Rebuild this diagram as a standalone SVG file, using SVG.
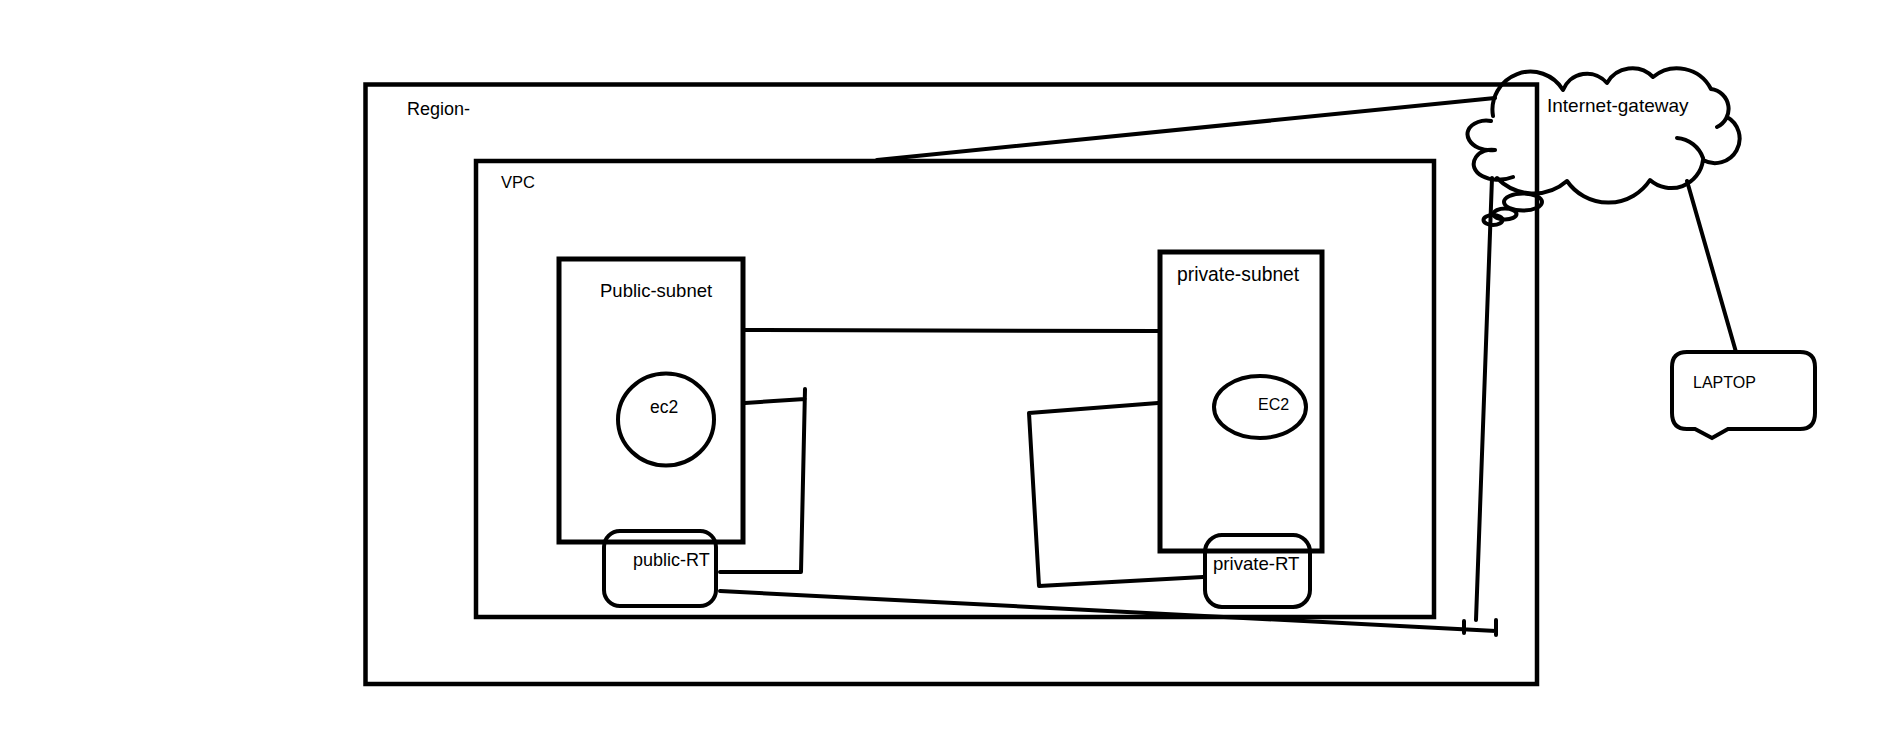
<svg xmlns="http://www.w3.org/2000/svg" width="1879" height="743" viewBox="0 0 1879 743">
<style>
.box{fill:none;stroke:#000;stroke-width:4.5}
.thin{fill:none;stroke:#000;stroke-width:4}
.ln{fill:none;stroke:#000;stroke-width:4;stroke-linecap:round;stroke-linejoin:round}
text{font-family:"Liberation Sans",Arial,sans-serif;fill:#000}
</style>
<rect width="1879" height="743" fill="#fff"/>
<g id="region">
<rect class="box" x="365.5" y="84.5" width="1171.5" height="599.5"/>
<text x="407" y="115" font-size="18">Region-</text>
</g>
<g id="vpc">
<rect class="box" x="476" y="161" width="958" height="456"/>
<text x="501" y="188" font-size="16.5">VPC</text>
</g>
<g id="public-subnet">
<rect class="box" x="559" y="259" width="184" height="283" style="stroke-width:5"/>
<text x="600" y="297" font-size="18.5">Public-subnet</text>
</g>
<g id="ec2-public">
<ellipse class="thin" cx="666" cy="419.5" rx="48" ry="46"/>
<text x="650" y="413" font-size="17.5">ec2</text>
</g>
<g id="public-rt">
<rect class="thin" x="604" y="531" width="112" height="75" rx="16"/>
<text x="633" y="566" font-size="18">public-RT</text>
</g>
<g id="private-subnet">
<rect class="box" x="1160" y="252" width="162" height="299" style="stroke-width:5"/>
<text x="1177" y="281" font-size="19.3">private-subnet</text>
</g>
<g id="ec2-private">
<ellipse class="thin" cx="1260" cy="407" rx="46" ry="31"/>
<text x="1258" y="410" font-size="16">EC2</text>
</g>
<g id="private-rt">
<rect class="thin" x="1205" y="535" width="105" height="72" rx="17"/>
<text x="1213" y="570" font-size="18.6">private-RT</text>
</g>
<g id="internet-gateway">
<path class="ln" d="M1493,116 A38,38 0 0 1 1563,90 A26,26 0 0 1 1607,83 A29,29 0 0 1 1653,77 A38,38 0 0 1 1711,89 A20,20 0 0 1 1717,127 M1727,117 A20,20 0 1 1 1703,160 A32,32 0 0 1 1650,180 A50,50 0 0 1 1567,181 A51,51 0 0 1 1497,178 M1513,177 C1490,186 1466,172 1476,157 C1480,151 1488,149 1495,150 M1495,150 C1470,153 1457,130 1478,122 C1483,120 1487,120 1491,121 M1677,138 A30,30 0 0 1 1703,158"/>
<ellipse class="thin" cx="1523" cy="202" rx="19" ry="8.5"/>
<ellipse class="thin" cx="1505" cy="214" rx="11.5" ry="5.5"/>
<ellipse class="thin" cx="1493" cy="220" rx="9.5" ry="5"/>
<text x="1547" y="112" font-size="19">Internet-gateway</text>
</g>
<g id="laptop">
<path class="thin" d="M1687,352 H1800 Q1815,352 1815,367 V413 Q1815,429 1800,429 H1728 L1712,438 L1695,429 H1687 Q1672,429 1672,413 V367 Q1672,352 1687,352 Z"/>
<text x="1693" y="388" font-size="16">LAPTOP</text>
</g>
<g id="connectors">
<path class="ln" d="M877,160 L1495,98"/>
<path class="ln" d="M745,330 L1160,331"/>
<path class="ln" d="M745,403 L805,399 M805,389 L801,572 L720,572"/>
<path class="ln" d="M1158,403 L1029,413 L1039,586 L1203,577"/>
<path class="ln" d="M720,591 L1496,631 M1464,621 L1464,633 M1496,620 L1496,635"/>
<path class="ln" d="M1492,178 L1476,620"/>
<path class="ln" d="M1687,181 L1736,352"/>
</g>
</svg>
